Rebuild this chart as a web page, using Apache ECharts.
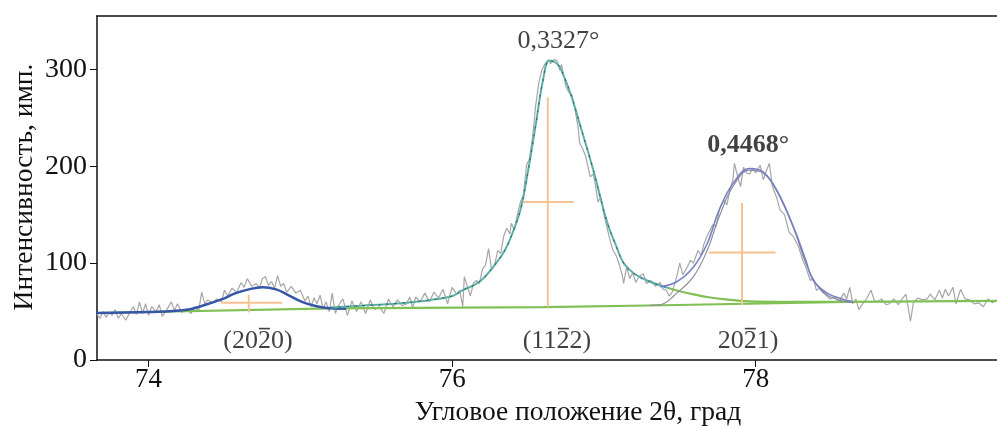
<!DOCTYPE html>
<html lang="ru">
<head>
    <meta charset="UTF-8">
    <title>Интенсивность</title>
    <style>
        body { margin: 0; background: #fff; }
        #chart { width: 997px; height: 428px; }
    </style>
    <script src="https://cdn.jsdelivr.net/npm/echarts@6/dist/echarts.min.js"></script>
</head>
<body>
    <div id="chart"></div>
    <script>
        // сырые данные (2θ, имп.)
        const rawTheta = [73.66, 73.68, 73.70, 73.72, 73.74, 73.76, 73.78, 73.80, 73.82, 73.85, 73.88, 73.90, 73.92, 73.94, 73.96, 73.98, 74.00, 74.02, 74.05, 74.07, 74.09, 74.12, 74.15, 74.17, 74.19, 74.22, 74.25, 74.28, 74.30, 74.33, 74.35, 74.37, 74.39, 74.42, 74.45, 74.48, 74.50, 74.52, 74.55, 74.58, 74.61, 74.63, 74.65, 74.68, 74.71, 74.73, 74.75, 74.77, 74.79, 74.81, 74.83, 74.85, 74.87, 74.89, 74.91, 74.94, 74.97, 75.00, 75.03, 75.05, 75.07, 75.09, 75.11, 75.13, 75.15, 75.17, 75.19, 75.21, 75.23, 75.25, 75.28, 75.31, 75.34, 75.37, 75.40, 75.43, 75.46, 75.49, 75.52, 75.55, 75.58, 75.61, 75.64, 75.67, 75.70, 75.72, 75.74, 75.76, 75.79, 75.82, 75.85, 75.88, 75.91, 75.94, 75.97, 76.00, 76.03, 76.05, 76.07, 76.08, 76.10, 76.12, 76.14, 76.16, 76.18, 76.20, 76.22, 76.24, 76.26, 76.28, 76.30, 76.32, 76.34, 76.36, 76.38, 76.39, 76.41, 76.43, 76.45, 76.47, 76.49, 76.51, 76.53, 76.55, 76.57, 76.59, 76.61, 76.63, 76.65, 76.67, 76.69, 76.71, 76.72, 76.74, 76.75, 76.77, 76.79, 76.81, 76.83, 76.84, 76.86, 76.88, 76.91, 76.93, 76.95, 76.96, 76.98, 77.00, 77.02, 77.04, 77.06, 77.08, 77.10, 77.12, 77.13, 77.15, 77.17, 77.19, 77.21, 77.23, 77.26, 77.28, 77.31, 77.34, 77.37, 77.39, 77.41, 77.43, 77.45, 77.48, 77.50, 77.52, 77.55, 77.57, 77.59, 77.62, 77.64, 77.66, 77.68, 77.70, 77.72, 77.74, 77.76, 77.79, 77.81, 77.83, 77.85, 77.86, 77.88, 77.90, 77.92, 77.94, 77.96, 77.98, 78.00, 78.03, 78.05, 78.07, 78.09, 78.11, 78.14, 78.16, 78.19, 78.22, 78.25, 78.28, 78.31, 78.33, 78.36, 78.38, 78.40, 78.42, 78.44, 78.47, 78.49, 78.52, 78.55, 78.58, 78.60, 78.62, 78.64, 78.66, 78.68, 78.70, 78.73, 78.76, 78.78, 78.80, 78.83, 78.86, 78.88, 78.91, 78.94, 78.96, 78.99, 79.02, 79.04, 79.07, 79.10, 79.13, 79.15, 79.18, 79.21, 79.23, 79.25, 79.27, 79.30, 79.32, 79.35, 79.38, 79.41, 79.44, 79.47, 79.50, 79.53, 79.56, 79.59];
        const rawCounts = [47, 43, 50, 44, 49, 46, 52, 43, 48, 41, 50, 55, 47, 60, 48, 58, 46, 55, 50, 57, 45, 52, 60, 51, 58, 49, 53, 48, 55, 51, 70, 58, 62, 59, 63, 60, 72, 66, 74, 70, 80, 75, 84, 76, 79, 74, 84, 86, 77, 81, 74, 87, 76, 79, 70, 76, 69, 72, 61, 66, 55, 64, 58, 67, 53, 60, 50, 69, 48, 56, 63, 46, 61, 50, 60, 48, 62, 52, 55, 48, 63, 55, 62, 56, 58, 65, 54, 65, 60, 69, 60, 70, 64, 73, 58, 75, 68, 72, 55, 86, 76, 66, 79, 82, 79, 94, 98, 115, 93, 98, 113, 110, 128, 136, 130, 141, 134, 150, 163, 170, 201, 208, 230, 262, 285, 299, 305, 309, 306, 310, 309, 299, 305, 290, 282, 276, 273, 258, 240, 224, 218, 210, 189, 192, 175, 163, 168, 150, 137, 124, 113, 108, 99, 88, 79, 96, 84, 90, 80, 86, 89, 79, 82, 76, 80, 73, 72, 66, 70, 86, 100, 88, 96, 103, 100, 113, 108, 120, 128, 134, 140, 138, 155, 165, 160, 175, 186, 203, 190, 179, 199, 193, 192, 198, 193, 201, 186, 195, 203, 179, 167, 155, 150, 132, 127, 118, 103, 96, 82, 84, 72, 74, 70, 66, 63, 65, 60, 69, 63, 75, 58, 63, 52, 57, 63, 72, 62, 60, 63, 57, 58, 63, 57, 62, 68, 40, 60, 64, 62, 63, 68, 62, 72, 64, 73, 66, 75, 58, 73, 63, 62, 58, 59, 55, 63, 59, 62];

        // фон
        const bgTheta = [73.66, 75.20, 76.60, 77.40, 78.60, 79.59];
        const bgCounts = [48.5, 53.3, 54.5, 56.5, 60.0, 61.0];
        const tailTheta = [77.43, 77.50, 77.60, 77.70, 77.80, 77.96, 78.20, 78.60];
        const tailCounts = [74, 71, 67.5, 64.5, 62.5, 60.5, 60, 60];

        // аппроксимация пиков
        const fit1Theta = [73.66, 74.00, 74.24, 74.37, 74.48, 74.57, 74.66, 74.75, 74.84, 74.92, 75.01, 75.10, 75.19, 75.30];
        const fit1Counts = [48.5, 49.5, 51.5, 56.7, 62.5, 68.7, 72.9, 75.0, 72.9, 67.0, 60.0, 55.7, 53.3, 52.8];
        const fit2Theta = [75.20, 75.40, 75.64, 75.86, 76.00, 76.07, 76.18, 76.29, 76.35, 76.40, 76.45, 76.50, 76.55, 76.60, 76.64, 76.68, 76.71, 76.78, 76.84, 76.93, 77.02, 77.08, 77.13, 77.20, 77.30, 77.43];
        const fit2Counts = [54.3, 56, 58.4, 62, 66, 72, 80.7, 100, 114, 132, 155, 195, 242, 290, 309, 307, 302, 275, 244, 196, 143, 118, 100, 89, 81, 74];
        const fit3Theta = [77.37, 77.48, 77.59, 77.68, 77.76, 77.85, 77.96, 78.05, 78.14, 78.25, 78.33, 78.38, 78.47, 78.57, 78.64];
        const fit3Counts = [75.6, 80.7, 96, 120, 155, 182, 197.6, 194, 175, 137, 103, 82, 69, 63, 60];
        const fit3cTheta = [77.30, 77.37, 77.48, 77.59, 77.68, 77.76, 77.85, 77.96, 78.05, 78.14, 78.25, 78.33, 78.40, 78.47, 78.57, 78.64];
        const fit3cCounts = [56.5, 57, 69, 86, 113, 148, 179, 196, 193, 174, 136, 100, 78, 67, 61, 59.5];

        // кресты: положение пика и ширина на полувысоте
        const crossTheta = [74.66, 76.63, 77.91];
        const crossLow = [49, 54.6, 56.7];
        const crossHigh = [67, 271, 162];
        const crossHalf = [59, 163, 111];
        const crossLeft = [74.48, 76.47, 77.69];
        const crossRight = [74.88, 76.80, 78.13];

        // подписи
        const noteText = ['0,3327°', '0,4468°', '(2020)', '(1122)', '2021)'];
        const noteTheta = [76.70, 77.95, 74.72, 76.69, 77.95];
        const noteCounts = [329, 222, 19, 19, 19];
        const noteBold = [false, true, false, false, false];
        // черта над цифрой в индексах (номер подписи, сдвиг в px)
        const barNote = [2, 3, 4];
        const barShift = [6.5, 6.5, 2.2];

        const xTicks = [74, 76, 78];
        const yTicks = [0, 100, 200, 300];

        const zip = (xs, ys) => xs.map((x, i) => [x, ys[i]]);
        const serif = '"Liberation Serif", "DejaVu Serif", serif';

        const crossData = [];
        crossTheta.forEach((t, i) => {
            crossData.push([t, crossLow[i]], [t, crossHigh[i]], null);
            crossData.push([crossLeft[i], crossHalf[i]], [crossRight[i], crossHalf[i]], null);
        });

        const chart = echarts.init(document.getElementById('chart'));

        const lineBase = { type: 'line', showSymbol: false, symbol: 'none', animation: false };

        chart.setOption({
            animation: false,
            grid: { left: 97, right: 0, top: 16, bottom: 68 },
            xAxis: [{
                type: 'value', min: 73.66, max: 79.59,
                axisLine: { lineStyle: { color: '#111', width: 1.5 } },
                axisTick: { customValues: xTicks, length: 7, lineStyle: { color: '#111' } },
                axisLabel: { customValues: xTicks, margin: 6, color: '#111', fontFamily: serif, fontSize: 27 },
                splitLine: { show: false }
            }, {
                type: 'value', min: 73.66, max: 79.59, position: 'top',
                axisLine: { lineStyle: { color: '#111', width: 1.5 } },
                axisTick: { show: false }, axisLabel: { show: false }, splitLine: { show: false }
            }],
            yAxis: {
                type: 'value', min: 0, max: 355,
                axisLine: { show: true, lineStyle: { color: '#111', width: 1.5 } },
                axisTick: { show: true, customValues: yTicks, length: 7, lineStyle: { color: '#111' } },
                axisLabel: { customValues: yTicks, margin: 10, color: '#111', fontFamily: serif, fontSize: 28 },
                splitLine: { show: false }
            },
            graphic: [{
                type: 'text', x: 578, y: 413,
                style: { text: 'Угловое положение 2θ, град', font: '27.5px ' + serif, fill: '#111', textAlign: 'center', textVerticalAlign: 'middle' }
            }, {
                type: 'text', x: 25, y: 187, rotation: Math.PI / 2,
                style: { text: 'Интенсивность, имп.', font: '27.5px ' + serif, fill: '#111', textAlign: 'center', textVerticalAlign: 'middle' }
            }],
            series: [
                Object.assign({}, lineBase, { name: 'raw', data: zip(rawTheta, rawCounts), lineStyle: { color: '#a6a6a6', width: 1.2 } }),
                Object.assign({}, lineBase, { name: 'bg', data: zip(bgTheta, bgCounts), lineStyle: { color: '#80c055', width: 2.2 } }),
                Object.assign({}, lineBase, { name: 'tail', data: zip(tailTheta, tailCounts), smooth: 0.4, lineStyle: { color: '#80c055', width: 2.2 } }),
                Object.assign({}, lineBase, { name: 'fit1', data: zip(fit1Theta, fit1Counts), smooth: 0.4, lineStyle: { color: '#3656a8', width: 2.5 } }),
                Object.assign({}, lineBase, { name: 'fit2', data: zip(fit2Theta, fit2Counts), smooth: 0.4, lineStyle: { color: '#5cb0aa', width: 2 } }),
                Object.assign({}, lineBase, { name: 'fit2c', data: zip(fit2Theta, fit2Counts), smooth: 0.4, lineStyle: { color: '#2d5a48', width: 1, type: [2, 6] } }),
                Object.assign({}, lineBase, { name: 'fit3c', data: zip(fit3cTheta, fit3cCounts), smooth: 0.4, lineStyle: { color: '#8a8aa0', width: 1.2 } }),
                Object.assign({}, lineBase, { name: 'fit3', data: zip(fit3Theta, fit3Counts), smooth: 0.4, lineStyle: { color: '#7880c4', width: 1.6 } }),
                Object.assign({}, lineBase, { name: 'cross', data: crossData, connectNulls: false, lineStyle: { color: '#f7c291', width: 2 } }),
                {
                    type: 'scatter', symbolSize: 0, silent: true,
                    data: noteText.map((t, i) => ({
                        value: [noteTheta[i], noteCounts[i]],
                        label: {
                            show: true, position: 'inside', formatter: t, color: '#111',
                            fontFamily: serif, fontSize: 26, fontWeight: noteBold[i] ? 'bold' : 'normal'
                        }
                    }))
                },
                {
                    type: 'scatter', symbolSize: 0, silent: true,
                    data: barNote.map((n, i) => ({
                        value: [noteTheta[n], noteCounts[n]],
                        label: {
                            show: true, position: 'inside', formatter: '{bar|}', offset: [barShift[i], -13],
                            rich: { bar: { width: 11, height: 1.6, backgroundColor: '#111' } }
                        }
                    }))
                }
            ]
        });
    </script>
</body>
</html>
